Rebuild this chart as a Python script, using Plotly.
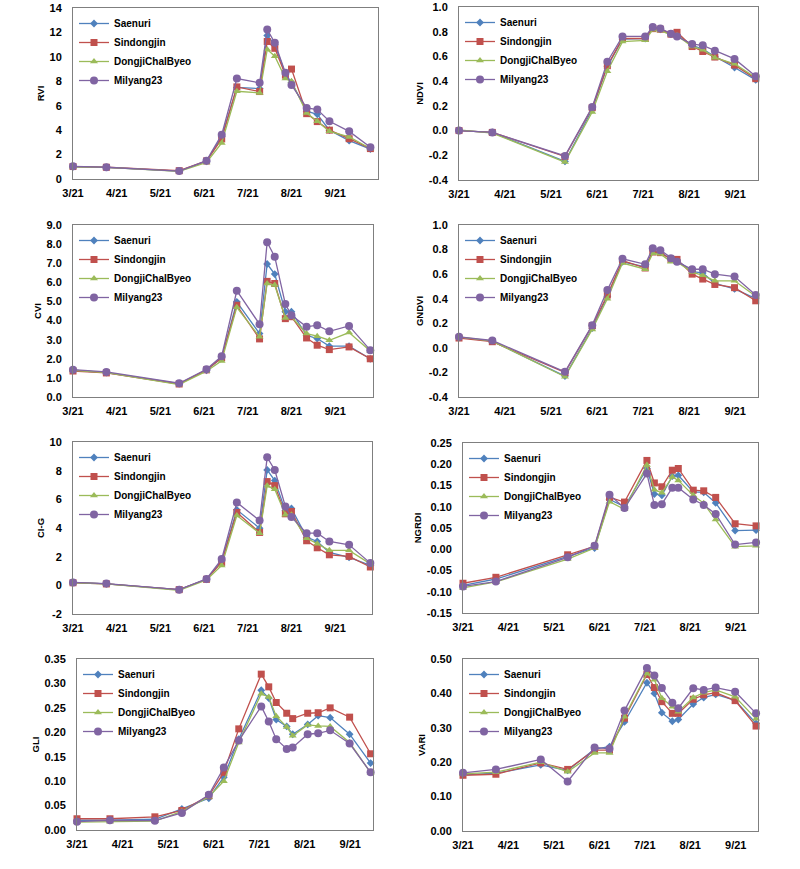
import plotly.graph_objects as go
from datetime import datetime, timedelta

# ---------------- data ----------------
varieties = ["Saenuri", "Sindongjin", "DongjiChalByeo", "Milyang23"]

dates17 = ["2021-03-21", "2021-04-12", "2021-05-12", "2021-05-30", "2021-06-17",
           "2021-06-27", "2021-07-07", "2021-07-22", "2021-07-27", "2021-08-01",
           "2021-08-08", "2021-08-12", "2021-08-22", "2021-08-29", "2021-09-06",
           "2021-09-19", "2021-10-03"]
dates16 = ["2021-03-21", "2021-04-12", "2021-05-30", "2021-06-17",
           "2021-06-27", "2021-07-07", "2021-07-22", "2021-07-27", "2021-08-01",
           "2021-08-08", "2021-08-12", "2021-08-22", "2021-08-29", "2021-09-06",
           "2021-09-19", "2021-10-03"]
month_labels = ["3/21", "4/21", "5/21", "6/21", "7/21", "8/21", "9/21"]

rvi_saenuri = [1.0, 0.95, 0.65, 1.45, 3.45, 7.5, 7.4, 11.75, 11.0, 8.6, 7.9, 5.55, 5.3, 4.0, 3.14, 2.45]
rvi_sindongjin = [1.02, 0.96, 0.68, 1.48, 3.28, 7.54, 7.16, 11.26, 10.7, 8.5, 9.0, 5.35, 4.7, 4.0, 3.3, 2.49]
rvi_dongji = [1.0, 0.95, 0.62, 1.35, 2.95, 7.18, 7.05, 10.6, 10.05, 8.22, 8.0, 5.4, 4.73, 3.9, 3.44, 2.5]
rvi_milyang = [1.04, 0.96, 0.65, 1.5, 3.63, 8.22, 7.87, 12.24, 11.15, 8.69, 7.7, 5.82, 5.68, 4.73, 3.9, 2.6]
rvi_ticks = ["0", "2", "4", "6", "8", "10", "12", "14"]

ndvi_saenuri = [0.0, -0.015, -0.25, 0.17, 0.52, 0.74, 0.745, 0.83, 0.82, 0.78, 0.775, 0.69, 0.66, 0.6, 0.51, 0.41]
ndvi_sindongjin = [0.0, -0.015, -0.21, 0.185, 0.525, 0.745, 0.745, 0.825, 0.82, 0.78, 0.795, 0.68, 0.64, 0.595, 0.53, 0.42]
ndvi_dongji = [0.005, -0.02, -0.255, 0.15, 0.48, 0.72, 0.73, 0.816, 0.81, 0.773, 0.77, 0.68, 0.655, 0.59, 0.54, 0.43]
ndvi_milyang = [0.0, -0.015, -0.205, 0.19, 0.557, 0.762, 0.762, 0.838, 0.827, 0.784, 0.762, 0.7, 0.69, 0.646, 0.58, 0.44]
ndvi_ticks = ["-0.4", "-0.2", "0.0", "0.2", "0.4", "0.6", "0.8", "1.0"]

cvi_saenuri = [1.4, 1.28, 0.7, 1.4, 2.05, 4.98, 3.32, 6.96, 6.43, 4.46, 4.46, 3.23, 3.06, 2.66, 2.66, 2.0]
cvi_sindongjin = [1.36, 1.26, 0.68, 1.42, 2.05, 4.8, 3.04, 6.05, 5.94, 4.1, 4.2, 3.09, 2.71, 2.48, 2.62, 2.0]
cvi_dongji = [1.4, 1.28, 0.65, 1.35, 1.89, 4.69, 3.15, 5.94, 5.86, 4.14, 4.2, 3.32, 3.18, 2.97, 3.37, 2.41]
cvi_milyang = [1.43, 1.31, 0.72, 1.45, 2.13, 5.56, 3.81, 8.1, 7.34, 4.86, 4.28, 3.67, 3.76, 3.44, 3.72, 2.45]
cvi_ticks = ["0.0", "1.0", "2.0", "3.0", "4.0", "5.0", "6.0", "7.0", "8.0", "9.0"]

gndvi_saenuri = [0.085, 0.055, -0.23, 0.16, 0.42, 0.7, 0.66, 0.79, 0.78, 0.72, 0.715, 0.62, 0.61, 0.525, 0.48, 0.4]
gndvi_sindongjin = [0.08, 0.05, -0.2, 0.18, 0.43, 0.71, 0.65, 0.78, 0.775, 0.72, 0.72, 0.6, 0.56, 0.516, 0.49, 0.383]
gndvi_dongji = [0.09, 0.055, -0.235, 0.15, 0.4, 0.69, 0.64, 0.77, 0.765, 0.7, 0.7, 0.617, 0.59, 0.546, 0.546, 0.42]
gndvi_milyang = [0.09, 0.06, -0.195, 0.185, 0.47, 0.725, 0.68, 0.81, 0.795, 0.73, 0.7, 0.64, 0.64, 0.6, 0.58, 0.43]
gndvi_ticks = ["-0.4", "-0.2", "0.0", "0.2", "0.4", "0.6", "0.8", "1.0"]

cig_saenuri = [0.2, 0.1, -0.3, 0.42, 1.7, 5.27, 3.99, 8.05, 7.31, 5.2, 5.36, 3.36, 3.06, 2.3, 1.95, 1.39]
cig_sindongjin = [0.18, 0.1, -0.3, 0.42, 1.6, 5.08, 3.69, 7.24, 6.96, 4.99, 5.15, 3.11, 2.62, 2.13, 2.02, 1.28]
cig_dongji = [0.18, 0.1, -0.35, 0.38, 1.39, 4.87, 3.64, 6.94, 6.7, 4.92, 4.92, 3.29, 2.9, 2.44, 2.44, 1.5]
cig_milyang = [0.2, 0.12, -0.3, 0.45, 1.83, 5.78, 4.52, 8.93, 8.05, 5.5, 4.76, 3.64, 3.64, 3.06, 2.83, 1.55]
cig_ticks = ["-2", "0", "2", "4", "6", "8", "10"]

ngrdi_saenuri = [-0.085, -0.07, -0.017, 0.003, 0.117, 0.1, 0.19, 0.13, 0.127, 0.172, 0.174, 0.135, 0.134, 0.109, 0.044, 0.045]
ngrdi_sindongjin = [-0.08, -0.066, -0.013, 0.007, 0.122, 0.111, 0.209, 0.156, 0.147, 0.186, 0.19, 0.139, 0.1375, 0.122, 0.06, 0.055]
ngrdi_dongji = [-0.091, -0.077, -0.023, 0.003, 0.112, 0.094, 0.198, 0.14, 0.133, 0.17, 0.162, 0.127, 0.108, 0.07, 0.006, 0.008]
ngrdi_milyang = [-0.0875, -0.076, -0.019, 0.008, 0.128, 0.097, 0.178, 0.104, 0.106, 0.145, 0.145, 0.117, 0.104, 0.083, 0.011, 0.016]
ngrdi_ticks = ["-0.15", "-0.10", "-0.05", "0.00", "0.05", "0.10", "0.15", "0.20", "0.25"]

gli_saenuri = [0.02, 0.02, 0.022, 0.043, 0.065, 0.108, 0.186, 0.286, 0.27, 0.226, 0.212, 0.196, 0.216, 0.234, 0.23, 0.196, 0.137]
gli_sindongjin = [0.023, 0.023, 0.027, 0.04, 0.07, 0.118, 0.207, 0.319, 0.293, 0.261, 0.239, 0.228, 0.239, 0.24, 0.25, 0.231, 0.156]
gli_dongji = [0.016, 0.017, 0.018, 0.038, 0.068, 0.1, 0.179, 0.279, 0.272, 0.233, 0.211, 0.193, 0.215, 0.213, 0.212, 0.179, 0.117]
gli_milyang = [0.017, 0.02, 0.019, 0.035, 0.072, 0.128, 0.183, 0.253, 0.222, 0.186, 0.166, 0.169, 0.196, 0.198, 0.204, 0.177, 0.118]
gli_ticks = ["0.00", "0.05", "0.10", "0.15", "0.20", "0.25", "0.30", "0.35"]

vari_saenuri = [0.163, 0.168, 0.192, 0.176, 0.238, 0.245, 0.317, 0.431, 0.4, 0.344, 0.319, 0.324, 0.369, 0.388, 0.397, 0.38, 0.313]
vari_sindongjin = [0.162, 0.165, 0.198, 0.179, 0.235, 0.235, 0.328, 0.455, 0.417, 0.376, 0.342, 0.342, 0.383, 0.396, 0.402, 0.379, 0.305]
vari_dongji = [0.166, 0.171, 0.2, 0.172, 0.227, 0.227, 0.332, 0.458, 0.44, 0.386, 0.361, 0.347, 0.388, 0.402, 0.41, 0.39, 0.326]
vari_milyang = [0.169, 0.179, 0.208, 0.144, 0.243, 0.239, 0.35, 0.474, 0.452, 0.416, 0.373, 0.357, 0.415, 0.41, 0.417, 0.405, 0.342]
vari_ticks = ["0.00", "0.10", "0.20", "0.30", "0.40", "0.50"]

# ---------------- style ----------------
colors = ["#4F81BD", "#C0504D", "#9BBB59", "#8064A2"]
symbols = ["diamond", "square", "triangle-up", "circle"]
msizes = [6, 7, 7, 8]
FONT = "Liberation Sans, Arial, sans-serif"
W, H = 800, 869
START = datetime(2021, 3, 21)

# name, dates, series, yticks, frame(left,right,top,bottom px), major unit (days), x span (days)
panels = [
    ("RVI", dates16, [rvi_saenuri, rvi_sindongjin, rvi_dongji, rvi_milyang], rvi_ticks, (73, 378, 8, 179), 28.8, 201.0),
    ("NDVI", dates16, [ndvi_saenuri, ndvi_sindongjin, ndvi_dongji, ndvi_milyang], ndvi_ticks, (459, 758, 7, 180), 30.4, 197.5),
    ("CVI", dates16, [cvi_saenuri, cvi_sindongjin, cvi_dongji, cvi_milyang], cvi_ticks, (73, 373, 225, 397), 28.8, 197.8),
    ("GNDVI", dates16, [gndvi_saenuri, gndvi_sindongjin, gndvi_dongji, gndvi_milyang], gndvi_ticks, (459, 758, 225, 397), 30.4, 197.5),
    ("CI-G", dates16, [cig_saenuri, cig_sindongjin, cig_dongji, cig_milyang], cig_ticks, (73, 372, 442, 614), 28.8, 197.1),
    ("NGRDI", dates16, [ngrdi_saenuri, ngrdi_sindongjin, ngrdi_dongji, ngrdi_milyang], ngrdi_ticks, (463, 758, 443, 613), 30.4, 197.3),
    ("GLI", dates17, [gli_saenuri, gli_sindongjin, gli_dongji, gli_milyang], gli_ticks, (77, 373, 659, 830), 30.4, 197.6),
    ("VARI", dates17, [vari_saenuri, vari_sindongjin, vari_dongji, vari_milyang], vari_ticks, (463, 758, 659, 831), 30.4, 197.3),
]


def dstr(days):
    return (START + timedelta(days=days)).strftime("%Y-%m-%d %H:%M:%S")


fig = go.Figure()
layout = dict(
    width=W, height=H, margin=dict(l=0, r=0, t=0, b=0),
    paper_bgcolor="white", plot_bgcolor="white", showlegend=True,
    font=dict(family=FONT, size=11, color="#000000"),
)

for i, (name, dts, series, yt, frame, major, span) in enumerate(panels):
    n = i + 1
    xa = "x" if n == 1 else f"x{n}"
    ya = "y" if n == 1 else f"y{n}"
    lg = "legend" if n == 1 else f"legend{n}"
    left, right, top, bottom = frame
    for vi, vals in enumerate(series):
        fig.add_trace(go.Scatter(
            x=dts, y=vals, name=varieties[vi], mode="lines+markers",
            xaxis=xa, yaxis=ya, legend=lg, cliponaxis=False,
            line=dict(color=colors[vi], width=1.3),
            marker=dict(symbol=symbols[vi], size=msizes[vi], color=colors[vi]),
        ))
    yvals = [float(t) for t in yt]
    xkey = "xaxis" if n == 1 else f"xaxis{n}"
    ykey = "yaxis" if n == 1 else f"yaxis{n}"
    layout[xkey] = dict(
        type="date", domain=[left / W, right / W], anchor=ya,
        range=[dstr(0), dstr(span)],
        tickvals=[dstr(k * major) for k in range(len(month_labels))],
        ticktext=month_labels, ticks="", ticklabelstandoff=4,
        showline=True, mirror=True, linecolor="#7f7f7f", linewidth=1,
        showgrid=False, zeroline=False, automargin=False,
        tickfont=dict(family=FONT, size=11, weight="bold", color="#000"),
    )
    layout[ykey] = dict(
        domain=[1 - bottom / H, 1 - top / H], anchor=xa,
        range=[yvals[0], yvals[-1]], tickvals=yvals, ticktext=yt,
        ticks="", ticklabelstandoff=8, ticklabeloverflow="allow",
        showline=True, mirror=True, linecolor="#7f7f7f", linewidth=1,
        showgrid=False, zeroline=False, automargin=False,
        tickfont=dict(family=FONT, size=11, weight="bold", color="#000"),
        title=dict(text=name, standoff=3,
                   font=dict(family=FONT, size=9.5, weight="bold", color="#000")),
    )
    layout[lg] = dict(
        x=(left + 1) / W, y=1 - (top + 1) / H, xanchor="left", yanchor="top",
        bgcolor="rgba(0,0,0,0)", borderwidth=0, itemwidth=30,
        font=dict(family=FONT, size=10, weight="bold", color="#000"),
        tracegroupgap=0,
    )

fig.update_layout(**layout)
# remove the browser's default 8px body margin so the figure fills the window
fig.write_html("out.html", config={"displayModeBar": False},
               post_script="document.body.style.margin='0px';")
